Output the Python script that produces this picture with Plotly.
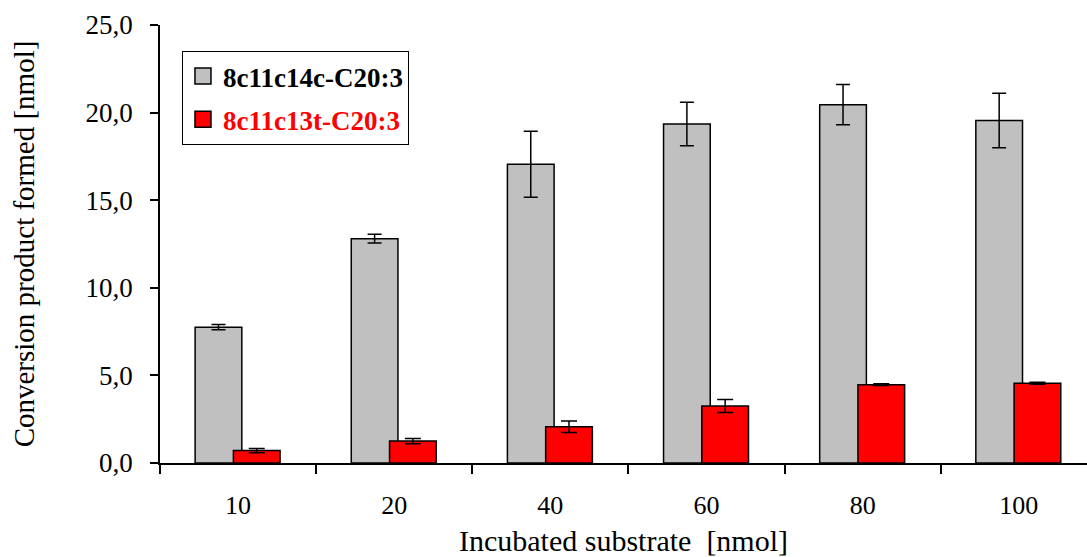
import plotly.graph_objects as go

# Incubated substrate amounts (nmol) and conversion products formed (nmol)
categories = ["10", "20", "40", "60", "80", "100"]
c14c_values = [7.75, 12.8, 17.05, 19.35, 20.45, 19.55]
c14c_errors = [0.15, 0.25, 1.88, 1.24, 1.15, 1.55]
c13t_values = [0.71, 1.25, 2.07, 3.25, 4.47, 4.55]
c13t_errors = [0.12, 0.15, 0.33, 0.37, 0.05, 0.06]

series_names = ["8c11c14c-C20:3", "8c11c13t-C20:3"]
series_colors = ["#C0C0C0", "#FF0000"]
label_colors = ["black", "#FF0000"]

FONT = "Liberation Serif"

fig = go.Figure()

fig.add_bar(
    x=categories, y=c14c_values, offset=-0.275, width=0.299,
    marker=dict(color=series_colors[0], line=dict(color="black", width=1.5)),
    error_y=dict(type="data", array=c14c_errors, color="black", thickness=1.5, width=7),
    showlegend=False,
)
fig.add_bar(
    x=categories, y=c13t_values, offset=-0.030, width=0.299,
    marker=dict(color=series_colors[1], line=dict(color="black", width=1.5)),
    error_y=dict(type="data", array=c13t_errors, color="black", thickness=1.5, width=8),
    showlegend=False,
)

# legend entries with larger square swatches
for i, name in enumerate(series_names):
    fig.add_scatter(
        x=[None], y=[None], mode="markers",
        name=f"<span style='color:{label_colors[i]}'>{name}</span>",
        legendgroup=f"g{i}",
        marker=dict(symbol="square", size=16, color=series_colors[i],
                    line=dict(color="black", width=1.5)),
    )

fig.update_layout(
    width=1087, height=557,
    margin=dict(l=160, r=0, t=25, b=94),
    paper_bgcolor="white", plot_bgcolor="white",
    barmode="overlay",
    separators=", ",
    font=dict(family=FONT, size=26, color="black"),
    legend=dict(
        x=0.0237, y=0.9406, xanchor="left", yanchor="top",
        bgcolor="white", bordercolor="black", borderwidth=1,
        font=dict(family=FONT, size=27, weight="bold"),
        tracegroupgap=5, traceorder="grouped",
    ),
    xaxis=dict(
        type="category", range=[-0.5, 5.437],
        tickson="boundaries", ticks="outside", ticklen=9, tickwidth=1.5, tickcolor="black",
        showline=True, linecolor="black", linewidth=1.5, showgrid=False, zeroline=False,
        tickfont=dict(family=FONT, size=26), ticklabelstandoff=18,
        title=dict(text="Incubated substrate\u00a0 [nmol]", font=dict(family=FONT, size=30), standoff=11),
    ),
    yaxis=dict(
        range=[0, 25], dtick=5, tickformat=".1f",
        ticks="outside", ticklen=8, tickwidth=1.5, tickcolor="black",
        showline=True, linecolor="black", linewidth=1.5, showgrid=False, zeroline=False,
        tickfont=dict(family=FONT, size=27), ticklabelstandoff=12,
        title=dict(text="Conversion product formed [nmol]", font=dict(family=FONT, size=29), standoff=42),
    ),
)

fig.write_html("out.html")
